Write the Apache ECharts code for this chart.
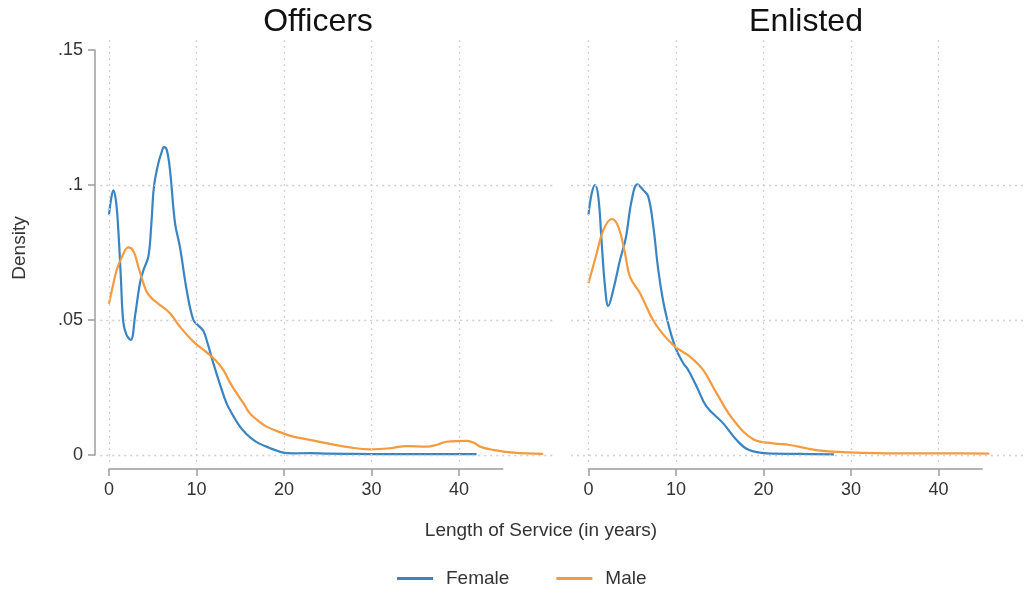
<!DOCTYPE html>
<html>
<head>
<meta charset="utf-8">
<script src="https://cdn.jsdelivr.net/npm/echarts@6/dist/echarts.min.js"></script>
<style>html,body{margin:0;padding:0;background:#fff;}#c{width:1026px;height:594px;}</style>
</head>
<body>
<div id="c"></div>
<script>
// ---- data ----
var panelTitles = ['Officers', 'Enlisted'];
var seriesNames = ['Female', 'Male'];
var xTicks = [0, 10, 20, 30, 40];
var yTickValues = [0, 0.05, 0.1, 0.15];
var yTickLabels = ['0', '.05', '.1', '.15'];
var yGridValues = [0, 0.05, 0.1];

var offFemaleT = [0, 0.25, 0.5, 0.8, 1.07, 1.35, 1.64, 2.0, 2.48, 3.0, 3.54, 4.0, 4.5, 4.85, 5.14, 5.64, 6.0, 6.29, 6.6, 6.97, 7.54, 8.11, 8.88, 9.64, 10.2, 10.78, 11.3, 11.92, 12.7, 13.45, 14.2, 14.97, 15.7, 16.5, 17.2, 18.0, 19.0, 19.9, 21, 23, 25, 28, 32, 36, 42];
var offFemaleV = [0.089, 0.095, 0.098, 0.094, 0.083, 0.066, 0.049, 0.0445, 0.0426, 0.052, 0.0637, 0.069, 0.0735, 0.086, 0.0994, 0.108, 0.112, 0.114, 0.113, 0.1056, 0.086, 0.077, 0.061, 0.050, 0.048, 0.046, 0.041, 0.034, 0.026, 0.019, 0.0145, 0.0105, 0.0078, 0.0056, 0.0042, 0.0031, 0.0018, 0.0009, 0.0006, 0.0007, 0.0005, 0.0004, 0.0003, 0.0003, 0.0003];

var offMaleT = [0, 0.4, 0.88, 1.5, 2.2, 2.8, 3.35, 3.8, 4.3, 4.9, 5.64, 6.97, 8.11, 9.64, 11.16, 12.2, 13.06, 13.8, 14.6, 15.4, 16.1, 17.0, 18.0, 19.9, 21.06, 22.97, 25.26, 27.54, 29.8, 32.1, 34.0, 36.3, 37.5, 38.6, 40.9, 41.7, 42.4, 43.9, 46.2, 49.6];
var offMaleV = [0.056, 0.062, 0.0685, 0.0735, 0.0769, 0.0755, 0.0697, 0.065, 0.0605, 0.058, 0.056, 0.0525, 0.0475, 0.042, 0.038, 0.035, 0.0315, 0.027, 0.0228, 0.019, 0.0154, 0.0128, 0.0105, 0.008, 0.0068, 0.0056, 0.0041, 0.0028, 0.0021, 0.0025, 0.0033, 0.0031, 0.0038, 0.0049, 0.0052, 0.0045, 0.0031, 0.0019, 0.0009, 0.0004];

var enlFemaleT = [0, 0.37, 0.74, 1.12, 1.51, 1.89, 2.26, 2.83, 3.6, 4.25, 4.94, 5.58, 6.26, 6.83, 7.41, 7.98, 8.74, 9.89, 10.83, 11.4, 12.37, 13.5, 15.4, 16.9, 18.3, 20.4, 24.2, 28.06];
var enlFemaleV = [0.089, 0.0969, 0.100, 0.0957, 0.0784, 0.0623, 0.0552, 0.0611, 0.0722, 0.0802, 0.0944, 0.1002, 0.0981, 0.0957, 0.0846, 0.0685, 0.0537, 0.0401, 0.034, 0.0315, 0.0253, 0.0179, 0.0117, 0.0056, 0.0019, 0.0006, 0.0004, 0.0002];

var enlMaleT = [0, 0.94, 1.69, 2.65, 3.4, 4.17, 4.74, 5.89, 7.6, 9.69, 11.6, 13.1, 14.65, 16.55, 18.83, 21.1, 23.0, 24.9, 26.5, 29.5, 35.2, 40.9, 45.8];
var enlMaleV = [0.0636, 0.0747, 0.0833, 0.0874, 0.0846, 0.0747, 0.066, 0.0599, 0.0488, 0.0407, 0.0364, 0.0315, 0.0228, 0.013, 0.0058, 0.0043, 0.0037, 0.0025, 0.0016, 0.001, 0.0006, 0.0006, 0.0005];

// ---- styling ----
var FONT = '"Liberation Sans", Arial, Helvetica, sans-serif';
var BLUE = '#3a84c4';
var ORANGE = '#f59a3f';
var AXIS = '#9c9c9c';
var GRIDC = '#d0d0d0';
var TXT = '#333333';

function zip(t, v) { return t.map(function (x, i) { return [x, v[i]]; }); }

var chart = echarts.init(document.getElementById('c'), null, { renderer: 'canvas' });

function gridSeries(idx) {
  var d = [];
  xTicks.forEach(function (x) { d.push({ xAxis: x }); });
  yGridValues.forEach(function (y) { d.push({ yAxis: y }); });
  return {
    type: 'line', xAxisIndex: idx, yAxisIndex: idx, data: [[0, 0]], showSymbol: false, symbol: 'none',
    lineStyle: { opacity: 0 }, silent: true, z: 1,
    markLine: {
      silent: true, symbol: ['none', 'none'], label: { show: false }, animation: false,
      lineStyle: { color: GRIDC, type: [2, 4], width: 1.3 }, emphasis: { disabled: true },
      data: d
    }
  };
}

function lineSeries(name, idx, data, color) {
  return {
    name: name, type: 'line', xAxisIndex: idx, yAxisIndex: idx, data: data,
    showSymbol: false, symbol: 'none', smooth: 0.4, z: 3,
    lineStyle: { color: color, width: 2.2 }, itemStyle: { color: color },
    emphasis: { disabled: true }
  };
}

function xAxisVisible(gi) {
  return {
    gridIndex: gi, type: 'value', min: 0, max: 45, position: 'bottom',
    axisLine: { show: true, lineStyle: { color: AXIS, width: 1.5 } },
    axisTick: { show: true, length: 7, customValues: xTicks, lineStyle: { color: AXIS, width: 1.5 } },
    axisLabel: { show: true, customValues: xTicks, margin: 12, fontSize: 18, color: TXT, fontFamily: FONT },
    splitLine: { show: false }
  };
}

var option = {
  animation: false,
  backgroundColor: '#ffffff',
  grid: [
    { left: 100.25, top: 40, width: 455, height: 422 },
    { left: 571, top: 40, width: 455, height: 422 },
    { left: 95, top: 50, width: 5, height: 405 },
    { left: 109, top: 460, width: 393.75, height: 9 },
    { left: 588.5, top: 460, width: 393.75, height: 9 }
  ],
  xAxis: [
    { gridIndex: 0, type: 'value', min: -1, max: 51, show: false },
    { gridIndex: 1, type: 'value', min: -2, max: 50, show: false },
    { gridIndex: 2, type: 'value', min: 0, max: 1, show: false },
    xAxisVisible(3),
    xAxisVisible(4)
  ],
  yAxis: [
    { gridIndex: 0, type: 'value', min: -0.0026, max: 0.1537, show: false },
    { gridIndex: 1, type: 'value', min: -0.0026, max: 0.1537, show: false },
    {
      gridIndex: 2, type: 'value', min: 0, max: 0.15, interval: 0.05, position: 'left',
      axisLine: { show: true, lineStyle: { color: AXIS, width: 1.5 } },
      axisTick: { show: true, length: 7, lineStyle: { color: AXIS, width: 1.5 } },
      axisLabel: {
        show: true, margin: 12, fontSize: 18, color: TXT, fontFamily: FONT,
        formatter: function (v) {
          for (var i = 0; i < yTickValues.length; i++) { if (Math.abs(yTickValues[i] - v) < 1e-9) return yTickLabels[i]; }
          return '';
        }
      },
      splitLine: { show: false }
    },
    { gridIndex: 3, type: 'value', show: false },
    { gridIndex: 4, type: 'value', show: false }
  ],
  legend: {
    data: seriesNames, left: 397, top: 569, padding: 0, icon: 'rect', itemWidth: 36, itemHeight: 3, itemGap: 47,
    textStyle: { fontSize: 19, color: TXT, fontFamily: FONT, padding: [0, 0, 0, 8] },
    selectedMode: false
  },
  graphic: [
    { type: 'text', x: 318, y: 22, silent: true, style: { text: panelTitles[0], textAlign: 'center', textVerticalAlign: 'middle', fontSize: 32, fontFamily: FONT, fill: '#111' } },
    { type: 'text', x: 806, y: 22, silent: true, style: { text: panelTitles[1], textAlign: 'center', textVerticalAlign: 'middle', fontSize: 32, fontFamily: FONT, fill: '#111' } },
    { type: 'text', x: 541, y: 531, silent: true, style: { text: 'Length of Service (in years)', textAlign: 'center', textVerticalAlign: 'middle', fontSize: 19, fontFamily: FONT, fill: TXT } },
    { type: 'text', x: 20, y: 248, rotation: Math.PI / 2, silent: true, style: { text: 'Density', textAlign: 'center', textVerticalAlign: 'middle', fontSize: 19, fontFamily: FONT, fill: TXT } }
  ],
  series: [
    gridSeries(0),
    gridSeries(1),
    lineSeries(seriesNames[0], 0, zip(offFemaleT, offFemaleV), BLUE),
    lineSeries(seriesNames[1], 0, zip(offMaleT, offMaleV), ORANGE),
    lineSeries(seriesNames[0], 1, zip(enlFemaleT, enlFemaleV), BLUE),
    lineSeries(seriesNames[1], 1, zip(enlMaleT, enlMaleV), ORANGE)
  ]
};
chart.setOption(option);
</script>
</body>
</html>
